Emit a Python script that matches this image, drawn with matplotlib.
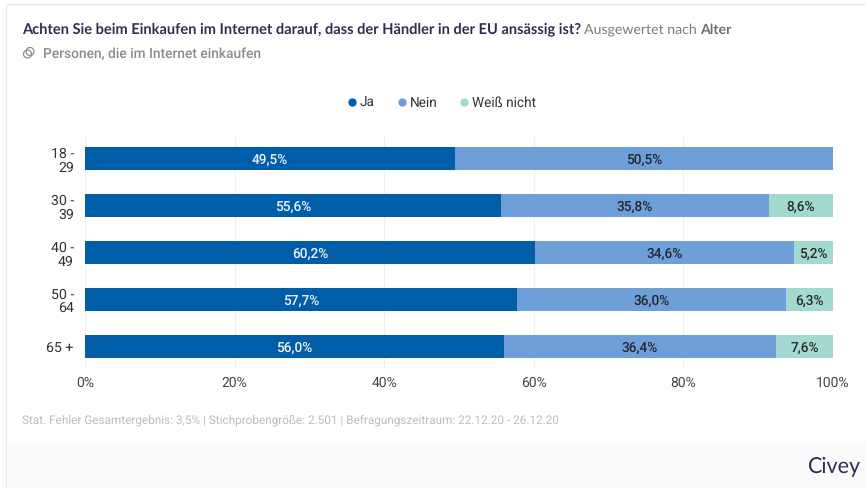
import matplotlib
matplotlib.use("Agg")
import matplotlib.pyplot as plt
from matplotlib.patches import Rectangle, Circle

W, H = 865, 489

ages = ["18 -\n29", "30 -\n39", "40 -\n49", "50 -\n64", "65 +"]
ja = [49.5, 55.6, 60.2, 57.7, 56.0]
nein = [50.5, 35.8, 34.6, 36.0, 36.4]
weiss = [0, 8.6, 5.2, 6.3, 7.6]
ticks = [0, 20, 40, 60, 80, 100]
legend_names = ["Ja", "Nein", "Weiß nicht"]
colors = ["#005da8", "#6f9fd8", "#a3d9cf"]

plt.rcParams["font.family"] = "Roboto"
plt.rcParams["text.hinting"] = "no_hinting"
fig = plt.figure(figsize=(W / 100, H / 100), dpi=100)

# page background, card border and footer strip
bg = fig.add_axes([0, 0, 1, 1])
bg.set_xlim(0, W)
bg.set_ylim(H, 0)
bg.axis("off")
bg.add_patch(Rectangle((6, 5), W, H, fc="white", ec="#e8e8e8", lw=1))
bg.add_patch(Rectangle((7, 444), W, 45, fc="#fafafa", ec="none"))

bg.text(22, 29, "Achten Sie beim Einkaufen im Internet darauf, dass der Händler in der EU ansässig ist?",
        family="Lato", weight="bold", fontsize=10.5, color="#38294f", va="center")
bg.text(584, 29.5, "Ausgewertet nach", family="Lato", fontsize=10.2, color="#7a7a7a", va="center")
bg.text(700, 29.5, "Alter", family="Lato", weight="bold", fontsize=10.2, color="#6e6e6e", va="center")
bg.add_patch(Circle((27.5, 55), 4, fc="none", ec="#8c8c8c", lw=0.9))
bg.add_patch(Circle((30, 52.5), 4, fc="none", ec="#8c8c8c", lw=0.9))
bg.text(43, 53.5, "Personen, die im Internet einkaufen", fontsize=9.9, weight="medium", color="#8c8c8c", va="center")

# legend
for x, name, txt_x, c in zip([352, 402, 464], legend_names, [360, 410, 472], colors):
    bg.plot([x], [102.5], "o", ms=6, color=c, mew=0)
    bg.text(txt_x, 103, name, fontsize=9.8, color="#333333", va="center")

bg.text(22, 420, "Stat. Fehler Gesamtergebnis: 3,5% | Stichprobengröße: 2.501 | Befragungszeitraum: 22.12.20 - 26.12.20",
        fontsize=8.5, color="#bdbdbd", va="center")
bg.text(861, 466, "Civey", family="Lato", fontsize=15.5, color="#38294f", va="center", ha="right")

ax = fig.add_axes([85 / W, 1 - 371 / H, (833 - 85) / W, (371 - 136) / H])
ax.set_axisbelow(True)
ax.grid(axis="x", color="#f0f0f0", lw=0.8)
y = range(len(ages))
left2 = [a + b for a, b in zip(ja, nein)]
ax.barh(y, ja, height=0.49, color=colors[0])
ax.barh(y, nein, left=ja, height=0.49, color=colors[1])
ax.barh(y, weiss, left=left2, height=0.49, color=colors[2])

for i in y:
    ax.text(ja[i] / 2, i, f"{ja[i]:.1f}%".replace(".", ","), color="white", fontsize=9.8, weight="medium", alpha=0.92, ha="center", va="center")
    ax.text(ja[i] + nein[i] / 2, i, f"{nein[i]:.1f}%".replace(".", ","), color="#1a1a1a", fontsize=9.8, weight="medium", alpha=0.9, ha="center", va="center")
    if weiss[i] > 0:
        ax.text(left2[i] + weiss[i] / 2, i, f"{weiss[i]:.1f}%".replace(".", ","), color="#1a1a1a", fontsize=9.8, weight="medium", alpha=0.9, ha="center", va="center")

ax.set_xlim(0, 100)
ax.set_ylim(len(ages) - 0.5, -0.5)
ax.set_yticks(list(y))
ax.set_yticklabels(ages, fontsize=10.2, color="#333333", linespacing=1.05)
ax.set_xticks(ticks)
ax.set_xticklabels([f"{t}%" for t in ticks], fontsize=10, color="#444444")
ax.tick_params(length=0)
ax.tick_params(axis="x", pad=3.5)
ax.tick_params(axis="y", pad=8)
for s in ax.spines.values():
    s.set_visible(False)

fig.savefig("out.png", dpi=100)
